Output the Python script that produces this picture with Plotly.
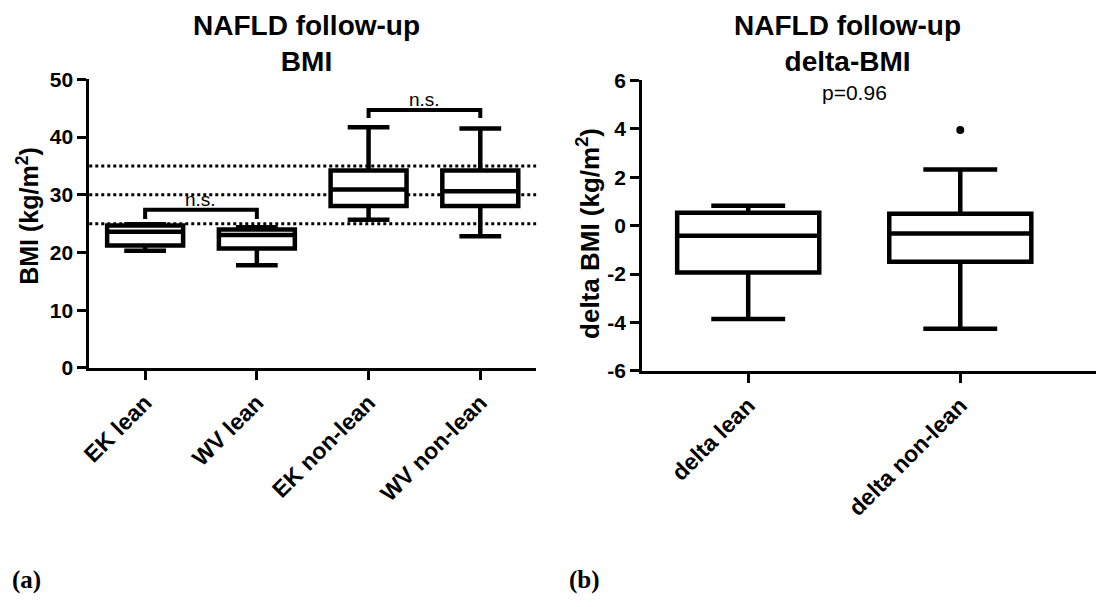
import plotly.graph_objects as go

# ---- data: panel (a) BMI ----
bmi_cats = ["EK lean", "WV lean", "EK non-lean", "WV non-lean"]
bmi_lower = [20.3, 17.8, 25.7, 22.8]
bmi_q1 = [21.2, 20.7, 28.05, 28.05]
bmi_median = [23.6, 23.05, 30.9, 30.6]
bmi_q3 = [24.7, 24.0, 34.2, 34.2]
bmi_upper = [24.9, 24.4, 41.7, 41.5]
bmi_ref_lines = [25, 30, 35]
bmi_yticks = [0, 10, 20, 30, 40, 50]
# significance brackets: (left cat, right cat, bar level, tip level, label)
brackets = [
    ("EK lean", "WV lean", 27.4, 25.8, "n.s."),
    ("EK non-lean", "WV non-lean", 44.7, 43.3, "n.s."),
]

# ---- data: panel (b) delta-BMI ----
d_cats = ["delta lean", "delta non-lean"]
d_lower = [-3.86, -4.26]
d_q1 = [-1.94, -1.49]
d_median = [-0.42, -0.33]
d_q3 = [0.53, 0.49]
d_upper = [0.82, 2.32]
d_outlier_cat = ["delta non-lean"]
d_outlier_val = [3.95]
d_yticks = [-6, -4, -2, 0, 2, 4, 6]
d_ytick_text = ["-6", "-4", "-2", "0", "2", "4", "6"]
d_pvalue_text = "p=0.96"
d_pvalue_y = 5.5

FONT = "Arial, Liberation Sans, Helvetica, sans-serif"
SERIF = "Liberation Serif, Times New Roman, serif"
W, H = 1096, 607

fig = go.Figure()

fig.add_trace(go.Box(
    x=bmi_cats, q1=bmi_q1, median=bmi_median, q3=bmi_q3,
    lowerfence=bmi_lower, upperfence=bmi_upper,
    fillcolor="white", line=dict(color="black", width=4.5),
    width=0.68, whiskerwidth=0.55, boxpoints=False,
    xaxis="x", yaxis="y", showlegend=False, hoverinfo="skip",
))

for a, b, top, tip, lab in brackets:
    fig.add_trace(go.Scatter(
        x=[a, a, b, b], y=[tip, top, top, tip], mode="lines",
        line=dict(color="black", width=4), xaxis="x", yaxis="y",
        showlegend=False, hoverinfo="skip",
    ))

fig.add_trace(go.Box(
    x=d_cats, q1=d_q1, median=d_median, q3=d_q3,
    lowerfence=d_lower, upperfence=d_upper,
    fillcolor="white", line=dict(color="black", width=4.5),
    width=0.67, whiskerwidth=0.52, boxpoints=False,
    xaxis="x2", yaxis="y2", showlegend=False, hoverinfo="skip",
))
fig.add_trace(go.Scatter(
    x=d_outlier_cat, y=d_outlier_val, mode="markers",
    marker=dict(color="black", size=8), xaxis="x2", yaxis="y2",
    showlegend=False, hoverinfo="skip",
))

shapes = []
for v in bmi_ref_lines:
    shapes.append(dict(type="line", xref="x domain", yref="y", x0=0, x1=1,
                       y0=v, y1=v, line=dict(color="black", width=3, dash="dot"),
                       layer="below"))

annotations = []
for a, b, top, tip, lab in brackets:
    ia, ib = bmi_cats.index(a), bmi_cats.index(b)
    annotations.append(dict(x=(ia + ib) / 2, y=top, xref="x", yref="y",
                            text=lab, showarrow=False, yanchor="bottom",
                            xanchor="center", yshift=-2,
                            font=dict(family=FONT, size=19, color="black")))
annotations.append(dict(x=0.5, y=d_pvalue_y, xref="x2", yref="y2",
                        text=d_pvalue_text, showarrow=False,
                        xanchor="center", yanchor="middle",
                        font=dict(family=FONT, size=21, color="black")))


def paper_ann(px, py, text, size, family=FONT, angle=0, xanchor="center"):
    return dict(x=px / W, y=1 - py / H, xref="paper", yref="paper",
                xanchor=xanchor, yanchor="middle", text=text,
                textangle=angle, showarrow=False,
                font=dict(family=family, size=size, color="black"))


annotations += [
    paper_ann(299, 33, "<b>NAFLD follow-up<br>BMI</b>", 28),
    paper_ann(845, 33, "<b>NAFLD follow-up<br>delta-BMI</b>", 28),
    paper_ann(18, 212, "<b>BMI (kg/m<sup>2</sup>)</b>", 25, angle=-90),
    paper_ann(584, 230, "<b>delta BMI (kg/m<sup>2</sup>)</b>", 26, angle=-90),
    paper_ann(0, 590, "<b>(a)</b>", 25, family=SERIF, xanchor="left"),
    paper_ann(562, 590, "<b>(b)</b>", 25, family=SERIF, xanchor="left"),
]

axis_common = dict(showgrid=False, zeroline=False, showline=True,
                   linecolor="black", linewidth=3, ticks="outside",
                   ticklen=9, tickwidth=3, tickcolor="black")
tickfont = dict(family=FONT, size=21, color="black", weight="bold")
xtickfont = dict(family=FONT, size=23, color="black", weight="bold")

fig.update_layout(
    width=W, height=H,
    margin=dict(l=0, r=0, t=0, b=0),
    paper_bgcolor="white", plot_bgcolor="white",
    font=dict(family=FONT, color="black"),
    xaxis=dict(domain=[80 / W, 531 / W], anchor="y", type="category",
               categoryorder="array", categoryarray=bmi_cats,
               range=[-0.5, 3.5], tickangle=-45, tickfont=xtickfont,
               **axis_common),
    yaxis=dict(domain=[1 - 370 / H, 1 - 70 / H], anchor="x", range=[0, 50],
               tickvals=bmi_yticks, tickfont=tickfont, **axis_common),
    xaxis2=dict(domain=[638 / W, 1.0], anchor="y2", type="category",
                categoryorder="array", categoryarray=d_cats,
                range=[-0.5, 1.64], tickangle=-45, tickfont=xtickfont,
                **axis_common),
    yaxis2=dict(domain=[1 - 373 / H, 1 - 71 / H], anchor="x2", range=[-6, 6],
                tickvals=d_yticks, ticktext=d_ytick_text, tickfont=tickfont,
                **axis_common),
    shapes=shapes,
    annotations=annotations,
)

fig.write_html("out.html")
